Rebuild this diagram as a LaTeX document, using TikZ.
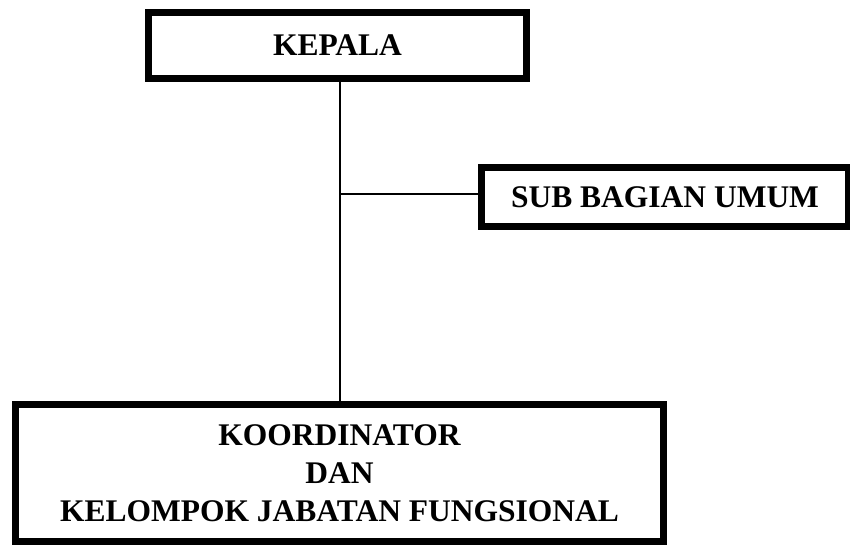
\documentclass[tikz,border=0pt]{standalone}
\usepackage{fontspec}
\setmainfont{Liberation Serif}
\begin{document}
\begin{tikzpicture}[x=1pt,y=-1pt,
  orgbox/.style={draw=black,line width=7pt,fill=white,inner sep=0pt,align=center,
    font=\fontsize{31.5}{38}\selectfont\bfseries},
  link/.style={draw=black,line width=1.5pt}]
\useasboundingbox (0,0) rectangle (850,545);
\fill[white] (0,0) rectangle (850,545);
\node[orgbox,minimum width=378pt,minimum height=66pt] (kepala) at (337.5,45.5) {KEPALA};
\node[orgbox,minimum width=367pt,minimum height=59pt] (sub) at (665,197) {SUB BAGIAN UMUM};
\node[orgbox,minimum width=648pt,minimum height=137pt] (koord) at (339.5,473) {KOORDINATOR\\DAN\\KELOMPOK JABATAN FUNGSIONAL};
\coordinate (j) at (340,194);
\begin{scope}[on background layer/.style={}]
\draw[link] (j |- kepala.south) -- (j |- koord.north);
\draw[link] (j) -- (sub.west |- j);
\end{scope}
\end{tikzpicture}
\end{document}
